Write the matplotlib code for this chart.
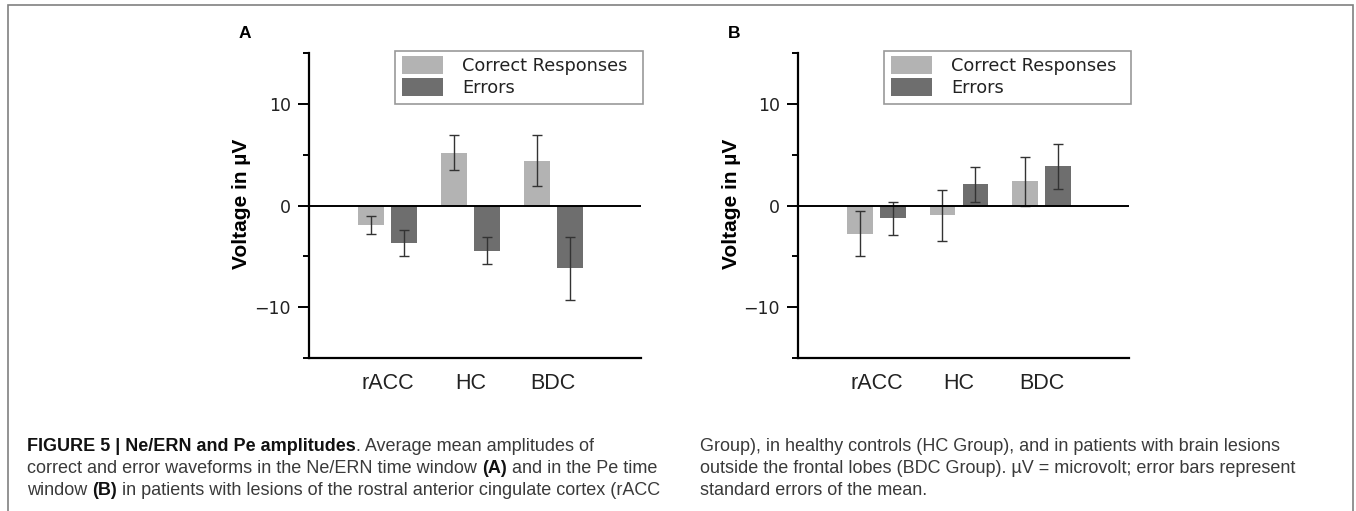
import matplotlib
matplotlib.use("Agg")
import matplotlib.pyplot as plt
from matplotlib.patches import Rectangle
from matplotlib.ticker import FixedLocator
import numpy as np

# ---- data ----
groups = ["rACC", "HC", "BDC"]
series_names = ["Correct Responses", "Errors"]
a_correct = [-1.92, 5.2, 4.41]
a_correct_se = [0.84, 1.7, 2.5]
a_errors = [-3.71, -4.45, -6.19]
a_errors_se = [1.28, 1.33, 3.07]
b_correct = [-2.78, -0.94, 2.38]
b_correct_se = [2.22, 2.51, 2.41]
b_errors = [-1.27, 2.08, 3.84]
b_errors_se = [1.65, 1.69, 2.17]
yticks_major = [-10, 0, 10]
yticks_minor = [-15, -5, 5, 15]
panel_letters = ["A", "B"]

caption_left = [
    [("FIGURE 5 | Ne/ERN and Pe amplitudes", True), (". Average mean amplitudes of", False)],
    [("correct and error waveforms in the Ne/ERN time window ", False), ("(A)", True),
     (" and in the Pe time", False)],
    [("window ", False), ("(B)", True),
     (" in patients with lesions of the rostral anterior cingulate cortex (rACC", False)],
]
caption_right = [
    [("Group), in healthy controls (HC Group), and in patients with brain lesions", False)],
    [("outside the frontal lobes (BDC Group). \u00b5V = microvolt; error bars represent", False)],
    [("standard errors of the mean.", False)],
]

light = "#b3b3b3"
dark = "#6e6e6e"

W, H = 1356, 511
fig = plt.figure(figsize=(W / 100, H / 100), dpi=100)

panels = [
    (309, 641, a_correct, a_correct_se, a_errors, a_errors_se),
    (798, 1129, b_correct, b_correct_se, b_errors, b_errors_se),
]
top_px, bot_px = 53, 358

for i, (lpx, rpx, c, cse, e, ese) in enumerate(panels):
    ax = fig.add_axes([lpx / W, 1 - bot_px / H, (rpx - lpx) / W, (bot_px - top_px) / H])
    x = np.arange(1, len(groups) + 1)
    w = 0.31
    off = 0.2
    ekw = dict(ecolor="#333333", elinewidth=1.0, capsize=3.5, capthick=1.0)
    ax.bar(x - off, c, w, color=light, label=series_names[0], yerr=cse, error_kw=ekw, zorder=2)
    ax.bar(x + off, e, w, color=dark, label=series_names[1], yerr=ese, error_kw=ekw, zorder=2)
    ax.axhline(0, color="black", lw=1.4, zorder=3)
    ax.set_xlim(0.05, 4.06)
    ax.set_ylim(-15, 15)
    for s in ["top", "right"]:
        ax.spines[s].set_visible(False)
    for s in ["left", "bottom"]:
        ax.spines[s].set_linewidth(1.6)
    ax.yaxis.set_major_locator(FixedLocator(yticks_major))
    ax.yaxis.set_minor_locator(FixedLocator(yticks_minor))
    ax.set_yticklabels([f"{v:d}".replace("-", "\u2212") for v in yticks_major],
                       fontsize=12.5, family="DejaVu Sans", color="#222222")
    ax.tick_params(axis="y", which="major", length=8, width=1.4, pad=5)
    ax.tick_params(axis="y", which="minor", length=4.5, width=1.4)
    ax.set_xticks(x)
    ax.set_xticklabels(groups, fontsize=15.5, family="Liberation Sans", color="#222222")
    ax.tick_params(axis="x", length=0, pad=11)
    ax.text(-0.202, 0.505, "Voltage in \u00b5V", transform=ax.transAxes, rotation=90,
            ha="center", va="center", fontsize=15, fontweight="bold", family="Liberation Sans")
    ax.text(-0.193, 1.065, panel_letters[i], transform=ax.transAxes, ha="center", va="center",
            fontsize=12.5, fontweight="bold", family="Liberation Sans")
    # legend box (drawn as a separate frame so its padding matches the reference)
    axw = rpx - lpx
    axh = bot_px - top_px
    box_l = 0.259
    box_r = 1.006
    box_t = (bot_px - 51) / axh
    box_b = (bot_px - 104) / axh
    ax.add_patch(Rectangle((box_l, box_b), box_r - box_l, box_t - box_b,
                           transform=ax.transAxes, fill=True, facecolor="white",
                           edgecolor="#999999", lw=1.2, clip_on=False, zorder=4))
    leg = ax.legend(loc="upper left", bbox_to_anchor=(box_l + 7 / axw, box_t - 5 / axh),
                    prop={"family": "DejaVu Sans", "size": 12.8},
                    handlelength=2.3, handleheight=1.2, handletextpad=1.1,
                    labelspacing=0.17, borderpad=0.0, borderaxespad=0, frameon=False)
    leg.set_zorder(5)
    for t in leg.get_texts():
        t.set_color("#222222")

# border frame
fig.patches.append(Rectangle((8 / W, -0.05), (1353 - 8) / W, 1.05 - 5 / H,
                             transform=fig.transFigure, fill=False, edgecolor="#808080",
                             lw=1.2, clip_on=False))

# caption with mixed bold
fig.canvas.draw()
renderer = fig.canvas.get_renderer()


def draw_line(x0, y0, parts):
    xpos = x0
    for txt, bold in parts:
        t = fig.text(xpos / W, 1 - y0 / H, txt, ha="left", va="baseline",
                     fontsize=13, family="Liberation Sans",
                     fontweight="bold" if bold else "normal",
                     color="#111111" if bold else "#3a3a3a")
        bb = t.get_window_extent(renderer=renderer)
        xpos += bb.width


line_ys = [451, 473, 495]
for y, parts in zip(line_ys, caption_left):
    draw_line(27, y, parts)
for y, parts in zip(line_ys, caption_right):
    draw_line(700, y, parts)

fig.savefig("out.png", dpi=100)
